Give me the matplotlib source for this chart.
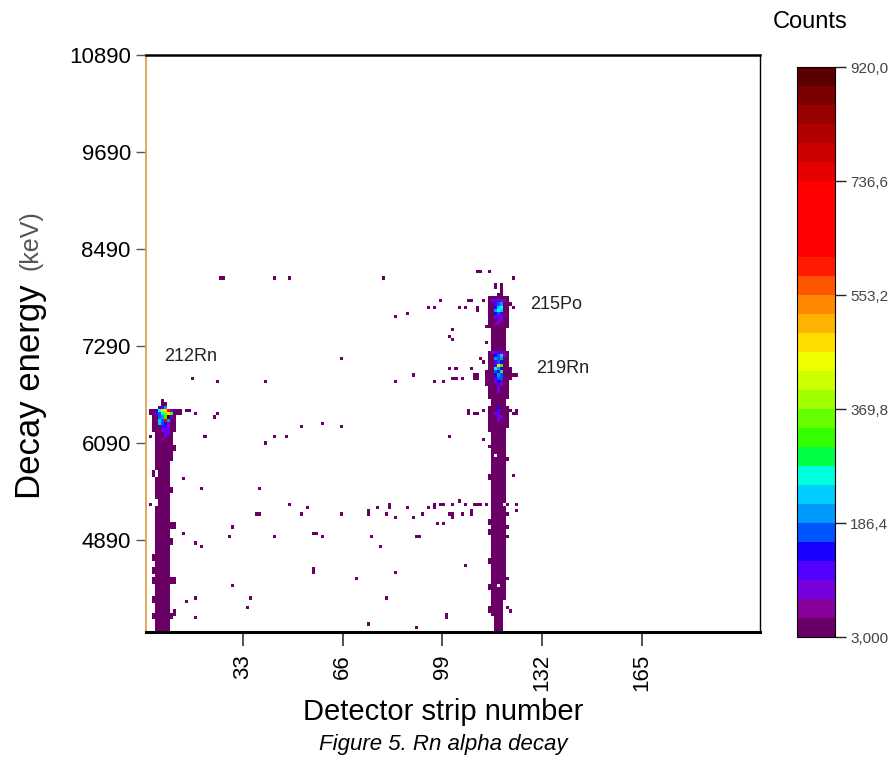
import numpy as np
import matplotlib
matplotlib.use("Agg")
import matplotlib.pyplot as plt
from matplotlib.colors import ListedColormap

plt.rcParams['font.family'] = ['Liberation Sans', 'DejaVu Sans']

# colour bands of the counts scale, bottom -> top (30 bands, 3 .. 920)
band_colors = ['#6a0066', '#880099', '#7700dd', '#5500ff', '#1a00ff', '#0055ff',
               '#0099ff', '#00ccff', '#00ffdd', '#00ff44', '#33ff00', '#66ff00',
               '#a0ff00', '#ccff00', '#eeff00', '#ffdd00', '#ffb300', '#ff8800',
               '#ff5500', '#ff1a00', '#ff0000', '#ff0000', '#ff0000', '#ff0000',
               '#e60000', '#cc0000', '#b00000', '#990000', '#7a0000', '#5a0000']
cbar_ticks = [3.0, 186.4, 369.8, 553.2, 736.6, 920.0]
cbar_labels = ['3,000', '186,4', '369,8', '553,2', '736,6', '920,0']

x_ticks = [33, 66, 99, 132, 165]
y_ticks = [4890, 6090, 7290, 8490, 9690, 10890]

# filled column pieces: (strip, energy from, energy to) in keV, low counts
col_strip = [2, 3, 3, 3, 3, 3, 3, 3, 4, 4, 4, 5, 6, 7, 8,
             9, 9, 9, 9, 9, 9, 9, 10, 10, 10, 10, 10, 11, 12,
             113, 114, 114, 114, 114, 114, 114, 114, 114, 114,
             115, 116, 116, 116, 116, 117, 117, 118, 119, 119,
             120, 120, 120, 121]
col_lo = [6430, 6250, 5690, 4660, 4500, 4370, 4130, 3930, 3770, 5420, 5760, 3770, 3770, 3770, 3770,
          3930, 4380, 4850, 5050, 5500, 5880, 6130, 6250, 6010, 5050, 4370, 3970, 6430, 6450,
          6810, 7530, 6650, 6250, 5650, 5090, 4950, 4620, 4290, 4010,
          3970, 3770, 4250, 5970, 7990, 3770, 4350, 3770, 4170, 5370,
          7530, 6650, 6290, 6890]
col_hi = [6500, 6500, 5730, 4700, 4540, 4410, 4170, 3970, 5300, 5680, 6500, 6540, 6620, 6580, 6500,
          3970, 4420, 4900, 5100, 5560, 6080, 6500, 6500, 6050, 5090, 4410, 4010, 6500, 6500,
          6970, 7890, 7220, 6530, 5710, 5130, 4990, 4660, 4330, 4070,
          7890, 4210, 5890, 7890, 8030, 4310, 7930, 8050, 5290, 7890,
          7890, 7220, 6530, 7010]
col_count = 12

# bright cells of the three peaks: strip, energy (keV), counts
hot_strip = [6, 7,
             4, 5, 6, 7, 8, 9,
             4, 5, 6, 7, 8, 9,
             5, 6, 7, 8, 9,
             5, 6, 7, 8,
             5, 6, 7, 8,
             6, 7, 8, 6, 7, 8, 7, 8, 7, 6,
             115, 116, 117, 118, 119,
             116, 117, 118, 116, 117, 118, 116, 117, 118,
             116, 117, 118, 116, 117, 118, 117, 118, 116, 117,
             115, 116, 117, 118, 119,
             116, 117, 118, 119, 116, 117, 118, 116, 117, 118,
             116, 117, 118, 116, 117, 118, 116, 117, 118,
             116, 117, 118, 116, 117, 118, 116, 117, 118,
             117, 118, 117, 117,
             117, 117, 116, 117, 117, 118, 117]
hot_e = [6530, 6530,
         6490, 6490, 6490, 6490, 6490, 6490,
         6450, 6450, 6450, 6450, 6450, 6450,
         6410, 6410, 6410, 6410, 6410,
         6370, 6370, 6370, 6370,
         6330, 6330, 6330, 6330,
         6290, 6290, 6290, 6250, 6250, 6250, 6210, 6210, 6170, 6130,
         7850, 7850, 7850, 7850, 7850,
         7810, 7810, 7810, 7770, 7770, 7770, 7730, 7730, 7730,
         7690, 7690, 7690, 7650, 7650, 7650, 7610, 7610, 7570, 7570,
         7210, 7210, 7210, 7210, 7210,
         7170, 7170, 7170, 7170, 7130, 7130, 7130, 7090, 7090, 7090,
         7050, 7050, 7050, 7010, 7010, 7010, 6970, 6970, 6970,
         6930, 6930, 6930, 6890, 6890, 6890, 6850, 6850, 6850,
         6810, 6810, 6770, 6730,
         6530, 6490, 6450, 6450, 6410, 6410, 6370]
hot_cnt = [110, 190,
           120, 240, 400, 470, 700, 80,
           90, 150, 250, 330, 450, 300,
           160, 190, 310, 905, 100,
           230, 170, 700, 180,
           235, 160, 140, 70,
           90, 110, 60, 70, 100, 80, 90, 60, 70, 50,
           70, 90, 80, 70, 50,
           100, 150, 200, 120, 230, 250, 180, 240, 220,
           140, 170, 100, 80, 100, 70, 60, 60, 50, 60,
           60, 80, 90, 70, 50,
           130, 170, 230, 60, 190, 150, 200, 110, 160, 120,
           100, 470, 300, 240, 180, 140, 150, 130, 290,
           120, 180, 160, 90, 150, 170, 80, 120, 90,
           100, 80, 70, 60,
           130, 100, 70, 90, 80, 70, 60]

# isolated single hits: strip, energy (keV)
dot_strip = [25, 26, 43, 48, 79, 110, 111, 114, 122,
             83, 87, 94, 96, 98, 104, 106, 107, 108, 102, 101, 102,
             65, 89, 101, 103, 108, 16, 24, 40, 83, 96, 99, 102, 103, 105,
             14, 15, 17, 24, 23, 59, 52, 65, 2, 20, 43, 47, 40, 101,
             13, 19, 38, 2, 48, 37, 38, 52, 54, 65, 74, 74, 77, 81, 81, 80, 83, 87, 89, 92,
             94, 96, 96, 98, 99, 102, 104, 106, 101, 102, 102, 105, 108, 97, 99,
             29, 13, 28, 17, 19, 43, 56, 57, 59, 75, 78, 90, 91,
             106, 56, 56, 83, 70, 29, 17, 14, 35, 80, 34, 17, 100, 100, 74, 90,
             109, 110, 109, 110, 111, 112, 122, 123, 120,
             109, 110, 112, 107, 107, 121, 122, 123, 123,
             120, 121, 122, 112, 110, 110, 113, 113,
             112, 114, 120, 122, 109, 110, 111, 113, 120, 123, 108, 123, 121,
             120, 120, 120, 120, 120]
dot_e = [8130, 8130, 8130, 8130, 8130, 8210, 8210, 8210, 8130,
         7650, 7690, 7770, 7770, 7850, 7770, 7770, 7850, 7850, 7490, 7410, 7370,
         7130, 6930, 7010, 7010, 7010, 6890, 6850, 6850, 6850, 6850, 6850, 6890, 6890, 6890,
         6490, 6490, 6450, 6450, 6410, 6330, 6290, 6290, 6170, 6170, 6170, 6170, 6090, 6170,
         5650, 5530, 5530, 5330, 5330, 5210, 5210, 5210, 5290, 5210, 5250, 5210, 5290, 5290, 5330, 5210, 5170, 5290, 5170, 5210,
         5290, 5290, 5330, 5330, 5330, 5330, 5370, 5330, 5210, 5210, 5170, 5210, 5210, 5090, 5090,
         5050, 4970, 4930, 4850, 4810, 4930, 4970, 4970, 4930, 4930, 4810, 4930, 4930,
         4570, 4490, 4530, 4490, 4410, 4330, 4170, 4130, 4170, 4170, 4050, 3930, 3930, 3970, 3850, 3810,
         6930, 6930, 6890, 6890, 7130, 7090, 6930, 6930, 6850,
         6450, 6450, 6490, 6490, 6450, 6490, 6450, 6450, 6490,
         7810, 7810, 7770, 7850, 7770, 7730, 7530, 7330,
         6130, 6050, 5890, 5690, 5330, 5330, 5330, 5330, 5330, 5330, 5250, 5250, 3990,
         5210, 5030, 4930, 4420, 4050]
dot_count = 5

strip_edges = np.arange(0, 206, 1)
energy_edges = np.arange(3750, 10900, 40)

xs, ys, ws = [], [], []
for s, lo, hi in zip(col_strip, col_lo, col_hi):
    for e in np.arange(lo, hi + 1, 40):
        xs.append(s + 0.5); ys.append(e); ws.append(col_count)
for s, e, c in zip(hot_strip, hot_e, hot_cnt):
    xs.append(s + 0.5); ys.append(e); ws.append(c)
for s, e in zip(dot_strip, dot_e):
    xs.append(s + 0.5); ys.append(e); ws.append(dot_count)

cmap = ListedColormap(band_colors)

fig = plt.figure(figsize=(8.91, 7.63), dpi=100)
ax = fig.add_axes([0.1639, 0.1717, 0.689, 0.7562])
h = ax.hist2d(xs, ys, bins=[strip_edges, energy_edges], weights=ws,
              cmap=cmap, vmin=3, vmax=920, cmin=1)

ax.set_xlim(1, 204)
ax.set_ylim(3750, 10890)
ax.set_xticks(x_ticks)
ax.set_xticklabels([str(t) for t in x_ticks], rotation=90, fontsize=16)
ax.set_yticks(y_ticks)
ax.set_yticklabels([str(t) for t in y_ticks], fontsize=16)
ax.tick_params(axis='x', direction='out', length=10, width=1.2, color='#333333', pad=6)
ax.tick_params(axis='y', direction='out', length=7, width=1, color='#555555', pad=4)

ax.spines['left'].set_color('#e0a050')
ax.spines['left'].set_linewidth(1.3)
ax.spines['bottom'].set_linewidth(2.2)
ax.spines['top'].set_linewidth(1.8)
ax.spines['right'].set_linewidth(1.0)

ax.text(7, 7154, '212Rn', fontsize=13, color='#222222', va='center')
ax.text(128, 7807, '215Po', fontsize=13, color='#222222', va='center')
ax.text(130, 7006, '219Rn', fontsize=13, color='#222222', va='center')

cax = fig.add_axes([0.8945, 0.1651, 0.0426, 0.747])
cb = fig.colorbar(h[3], cax=cax, ticks=cbar_ticks)
cb.ax.set_yticklabels(cbar_labels, fontsize=11, color='#444444')
cb.ax.tick_params(length=8, width=1, color='#222222', pad=3)
cb.outline.set_linewidth(0.8)

fig.text(0.909, 0.971, 'Counts', fontsize=17, ha='center', va='center')
fig.text(0.034, 0.486, 'Decay energy', rotation=90, fontsize=25, ha='center', va='center')
fig.text(0.034, 0.685, '(keV)', rotation=90, fontsize=18, color='#555555', ha='center', va='center')
fig.text(0.497, 0.067, 'Detector strip number', fontsize=21, ha='center', va='center')
fig.text(0.497, 0.024, 'Figure 5. Rn alpha decay', fontsize=16, style='italic',
         ha='center', va='center')

fig.savefig('out.png', dpi=100)
